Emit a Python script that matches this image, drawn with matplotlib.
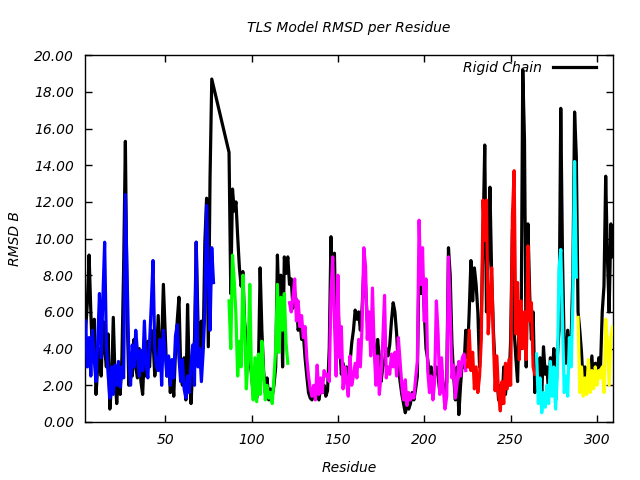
import numpy as np
import matplotlib
matplotlib.use("Agg")
import matplotlib.pyplot as plt

# Rigid chain RMSD, residues 4-78 and 87-309 (79-86 missing)
rigid_a_start = 4
rigid_a = [5.0, 6.5, 9.1, 6.0, 3.5, 5.6, 1.5, 3.0, 4.0, 2.5, 5.5, 4.0, 3.0, 4.8, 0.7,
           2.0, 5.7, 2.5, 1.0, 2.8, 1.5, 3.5, 8.5, 15.3, 6.0, 2.0, 3.5, 2.5, 4.5, 3.0,
           2.4, 4.0, 2.2, 1.5, 3.8, 2.5, 4.4, 3.0, 5.0, 4.5, 2.5, 3.4, 5.8, 3.0, 4.2,
           7.5, 5.0, 2.5, 3.5, 1.6, 2.8, 1.4, 3.8, 5.5, 6.8, 3.0, 2.0, 3.5, 1.2, 6.4,
           2.5, 1.0, 3.0, 4.5, 9.8, 5.5, 3.0, 5.5, 4.0, 9.8, 12.2, 4.1, 13.3, 18.7, 18.3]
rigid_b_start = 87
rigid_b = [14.7, 7.0, 12.7, 11.5, 12.0, 10.1, 8.4, 7.4, 8.2, 5.5, 4.4, 3.0, 3.5, 2.6, 1.5,
           2.2, 1.3, 2.8, 8.4, 5.0, 2.8, 1.6, 2.4, 1.2, 1.8, 1.4, 2.0, 3.0, 9.1, 6.0,
           8.0, 3.0, 9.0, 8.1, 9.0,
           7.5, 7.8, 6.2, 7.0, 6.6, 5.0, 5.5, 4.5, 4.8, 3.5, 2.5, 1.6, 1.3, 1.2, 1.5,
           1.3, 1.5, 1.2, 1.8, 1.6, 2.0, 1.4, 1.7, 4.0, 10.1, 6.5, 9.2, 4.0, 6.5, 4.3,
           2.6, 3.2, 2.5, 3.0, 2.3, 3.2, 4.3, 5.0, 6.1, 5.6, 6.0, 5.0, 6.2, 8.3, 7.5,
           5.5, 5.0, 4.4, 5.5, 4.0, 3.0, 4.5, 3.5, 2.2, 3.0, 3.3, 4.0, 3.6, 4.2, 5.5,
           6.5, 6.0, 4.8, 3.0, 2.2, 1.5, 1.0, 0.5, 0.9, 0.7, 1.0, 1.6, 1.2, 1.8, 2.5,
           9.0, 7.0, 8.0, 6.0, 4.0, 3.4, 2.5, 3.0, 2.0, 2.6, 3.0, 2.5, 1.6, 2.8, 2.0,
           1.5, 2.2, 9.5, 8.0, 4.3, 2.5, 1.2, 3.0, 0.4, 2.0, 3.2, 3.0, 5.0,
           3.5, 6.0, 8.8, 6.6, 8.4, 7.5, 6.0, 3.0, 5.5, 10.0, 15.1, 6.0, 9.0, 12.8, 8.0,
           5.0, 3.0, 2.5, 1.2, 2.0, 1.0, 3.0, 1.5, 2.5, 2.0, 4.5, 10.5, 5.0, 3.5, 2.2,
           6.0, 4.0, 19.2, 15.4, 3.0, 10.8, 7.0, 4.5, 6.0, 1.6,
           2.6, 2.0, 3.5, 1.5, 4.1, 2.6, 3.0, 1.5, 3.5, 2.5, 4.0, 1.2, 3.5, 5.0, 17.1,
           9.0, 4.0, 3.2, 5.0, 3.0, 4.5, 8.0, 16.9, 14.5,
           6.0, 5.0, 3.8, 2.0, 3.0, 1.6, 3.0, 2.2, 3.6, 2.0, 3.2, 2.5, 3.5, 3.0, 6.0,
           7.4, 13.4, 9.0, 6.0, 10.8, 9.0]

# TLS groups: (first residue, values, colour)
blue_start = 4
blue_vals = [5.5, 3.0, 4.6, 2.5, 5.0, 3.4, 2.2, 4.4, 7.0, 3.5, 6.8, 9.8, 4.2, 2.6, 1.3,
             3.0, 1.5, 3.1, 2.0, 3.3, 1.9, 3.0, 2.4, 12.4, 8.0, 3.5, 2.0, 4.2, 3.0, 5.0,
             3.8, 2.5, 3.9, 2.8, 5.5, 3.1, 2.4, 4.3, 6.4, 8.8, 4.0, 3.0, 2.8, 4.5, 2.0,
             5.0, 3.8, 2.5, 3.6, 2.0, 3.4, 2.4, 4.7, 5.3, 3.5, 2.2, 3.4, 1.8, 1.3, 2.5,
             1.6, 3.2, 4.2, 2.0, 9.8, 3.0, 4.0, 2.2, 3.8, 6.0, 11.8, 8.0, 5.0, 9.5, 7.6]
green_start = 87
green_vals = [6.6, 4.0, 9.1, 7.7, 5.8, 2.5, 4.4, 3.0, 8.0, 5.2, 1.8, 3.4, 7.5, 2.5, 1.2,
              3.5, 1.1, 3.7, 1.5, 4.4, 2.6, 1.2, 2.0, 1.3, 1.6, 1.0, 2.4, 4.0, 7.5, 3.8,
              6.8, 5.0, 7.0, 4.3, 3.2]
magenta_start = 122
magenta_vals = [6.5, 6.0, 6.8, 7.8, 5.5, 6.6, 5.2, 5.8, 4.6, 5.2, 3.5, 2.5, 1.8, 1.4, 2.0,
                1.2, 3.1, 1.5, 2.4, 1.6, 2.8, 2.5, 2.6, 2.2, 7.0, 9.0, 5.5, 2.5, 8.0, 3.5,
                5.2, 1.8, 3.0, 2.2, 1.4, 3.6, 2.0, 2.5, 3.2, 2.4, 4.5, 3.0, 5.2, 9.5, 8.5,
                4.5, 6.0, 3.6, 7.3, 4.0, 2.0, 3.6, 1.5, 2.6, 4.5, 6.9, 2.4, 3.0, 2.6, 3.7,
                3.0, 3.8, 2.5, 4.6, 3.3, 2.0, 1.2, 2.3, 0.9, 1.6, 1.2, 1.5, 1.3, 2.4, 3.3,
                11.0, 7.5, 9.5, 5.5, 7.8, 2.8, 1.6, 2.5, 1.2, 2.2, 6.6, 4.8, 1.5, 3.5, 1.8,
                0.7, 1.4, 9.0, 6.0, 2.4, 3.1, 1.3, 2.1, 3.3, 2.5, 3.5, 3.7, 2.8]
red_start = 225
red_vals = [3.0, 5.0, 2.8, 3.8, 1.8, 3.0, 1.6, 2.5, 4.5, 12.1, 9.9, 12.1, 4.8, 6.5, 8.4,
            4.5, 1.7, 3.6, 1.5, 0.6, 2.2, 1.0, 3.2, 1.8, 3.4, 2.0, 11.2, 13.7, 4.8, 7.6,
            3.4, 6.6, 4.0, 6.0, 3.4, 9.6, 5.5, 6.5, 3.0, 2.6]
cyan_start = 265
cyan_vals = [3.7, 1.0, 2.4, 0.5, 1.6, 0.8, 2.0, 1.0, 3.3, 1.4, 3.0, 0.7, 2.5, 8.4, 9.4,
             5.5, 1.6, 2.5, 1.4, 4.6, 3.0, 6.5, 14.2, 7.9]
yellow_start = 289
yellow_vals = [5.7, 1.6, 3.0, 1.4, 2.4, 1.5, 3.4, 1.6, 2.8, 1.8, 3.0, 2.0, 2.8, 2.4, 3.0,
               1.6, 5.6, 4.4, 2.0, 4.6, 5.2]

groups = [
    (blue_start, blue_vals, "#0000ff"),
    (green_start, green_vals, "#00ff00"),
    (magenta_start, magenta_vals, "#ff00ff"),
    (red_start, red_vals, "#ff0000"),
    (cyan_start, cyan_vals, "#00ffff"),
    (yellow_start, yellow_vals, "#ffff00"),
]

y_ticks = np.arange(0, 21, 2)
x_ticks = [50, 100, 150, 200, 250, 300]

font = {"family": "DejaVu Sans", "style": "italic", "size": 10}

fig = plt.figure(figsize=(6.4, 4.8), dpi=100)
ax = fig.add_axes([0.133, 0.121, 0.825, 0.764])

rigid_x = np.concatenate([np.arange(rigid_a_start, rigid_a_start + len(rigid_a)),
                          np.arange(rigid_b_start, rigid_b_start + len(rigid_b))])
rigid_y = np.array(rigid_a + rigid_b)
ax.plot(rigid_x, rigid_y, color="black", lw=2.3, label="Rigid Chain", zorder=2)

for start, vals, col in groups:
    xs = np.arange(start, start + len(vals))
    ax.plot(xs, vals, color=col, lw=2.3, zorder=3)

ax.set_xlim(3.7, 309.3)
ax.set_ylim(0, 20)
ax.set_xticks(x_ticks)
ax.set_yticks(y_ticks)
ax.set_yticklabels([f"{v:.2f}" for v in y_ticks], fontdict=font)
ax.set_xticklabels([str(v) for v in x_ticks], fontdict=font)
ax.tick_params(direction="in", length=5, width=1, top=True, right=True, pad=8)
for s in ax.spines.values():
    s.set_linewidth(1)

ax.set_title("TLS Model RMSD per Residue", fontdict=font, pad=17)
ax.set_xlabel("Residue", fontdict=font, labelpad=10)
ax.set_ylabel("RMSD B", fontdict=font, labelpad=9)

leg = ax.legend(loc="upper right", bbox_to_anchor=(0.978, 1.0), frameon=False,
                prop=font, handlelength=3.1, markerfirst=False, borderaxespad=0,
                handletextpad=0.8)

fig.savefig("out.png", dpi=100)
